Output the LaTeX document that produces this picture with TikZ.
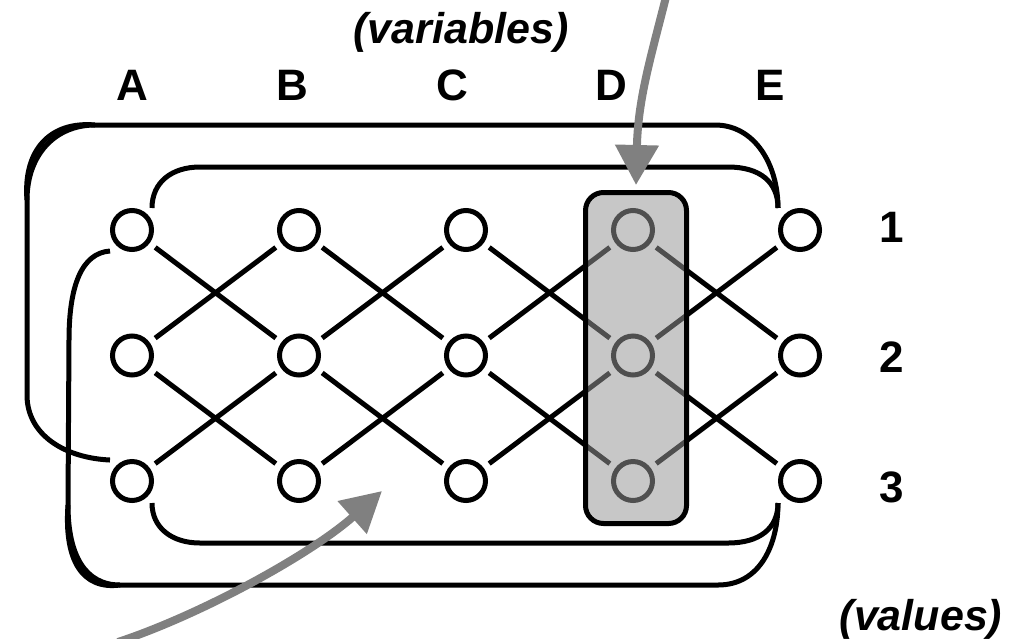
\documentclass[tikz,border=0pt]{standalone}
\usepackage{fontspec}
\setmainfont{Liberation Sans}
\usetikzlibrary{arrows.meta,calc}
\begin{document}
\begin{tikzpicture}[x=1pt,y=-1pt,
  val/.style={circle,draw=black,line width=5pt,minimum size=39pt,inner sep=0pt},
  link/.style={line width=5pt,shorten <=7pt,shorten >=7pt},
  wrap/.style={line width=5pt},
  selbox/.style={draw=black,line width=5pt,rounded corners=18pt,
    fill=black!41,fill opacity=0.53,inner sep=0pt},
  pointer/.style={draw=gray,line width=8pt,
    -{Triangle[length=40pt,width=42pt]}},
  lab/.style={font=\fontsize{44}{50}\selectfont\bfseries,anchor=base,inner sep=0pt},
  caption/.style={font=\fontsize{43}{50}\selectfont\bfseries\itshape,anchor=base,inner sep=0pt}
]
\useasboundingbox (0,0) rectangle (1024,638);

% value nodes: columns A..E, rows 1..3
\foreach \c/\x in {A/132,B/299,C/466,D/633,E/800}
  \foreach \r/\y in {1/230,2/355.5,3/481}
    \node[val] (\c\r) at (\x,\y) {};

% links between neighbouring columns
\foreach \a/\b in {A/B,B/C,C/D,D/E} {
  \draw[link] (\a1) -- (\b2);
  \draw[link] (\a2) -- (\b1);
  \draw[link] (\a2) -- (\b3);
  \draw[link] (\a3) -- (\b2);
}

% wrap-around links
\draw[wrap] ($(A1)+(20,-22)$) .. controls (152,182) and (172,167) .. (200,167)
  -- (728,167) .. controls (760,167) and (778,182) .. ($(E1)+(-22,-22)$);
\draw[wrap] ($(A3)+(-22,-21)$) .. controls (65,458) and (27,435) .. (27,395)
  -- (27,200) .. controls (27,155) and (55,125) .. (95,125)
  -- (715,125) .. controls (755,125) and (778,165) .. ($(E1)+(-22,-22)$);
\draw[wrap] ($(A1)+(-22,21)$) .. controls (82,253) and (69,285) .. (69,340)
  -- (68,505) .. controls (68,555) and (85,585) .. (120,585)
  -- (718,585) .. controls (760,585) and (778,545) .. ($(E3)+(-22,22)$);
\draw[wrap] ($(A3)+(20,22)$) .. controls (152,528) and (172,543) .. (200,543)
  -- (728,543) .. controls (760,543) and (778,528) .. ($(E3)+(-22,22)$);
% heavier outer corners
\draw[wrap] (27,200) .. controls (23,150) and (50,121) .. (95,125);
\draw[wrap] (68,505) .. controls (64,560) and (82,590) .. (120,585);

% selected variable D
\node[selbox,minimum width=101pt,minimum height=331pt] (Dbox) at (636,358) {};

% column and row labels
\node[lab] (labA) at (132,100) {A};
\node[lab] (labB) at (292,100) {B};
\node[lab] (labC) at (452,100) {C};
\node[lab] (labD) at (611,100) {D};
\node[lab] (labE) at (770,100) {E};
\node[lab] (lab1) at (892,242) {1};
\node[lab] (lab2) at (892,372) {2};
\node[lab] (lab3) at (892,502) {3};
\node[caption] (vars) at (461,43) {(variables)};
\node[caption] (vals) at (921,630) {(values)};

% pointers
\coordinate (vtail) at (666,-3);
\coordinate (vtip) at (636,185);
\draw[pointer] (vtail) .. controls (650,60) and (638,100) .. (vtip);
\coordinate (htail) at (118,642);
\coordinate (htip) at (382,491);
\draw[pointer] (htail) .. controls (200,615) and (310,555) .. (htip);
\end{tikzpicture}
\end{document}
